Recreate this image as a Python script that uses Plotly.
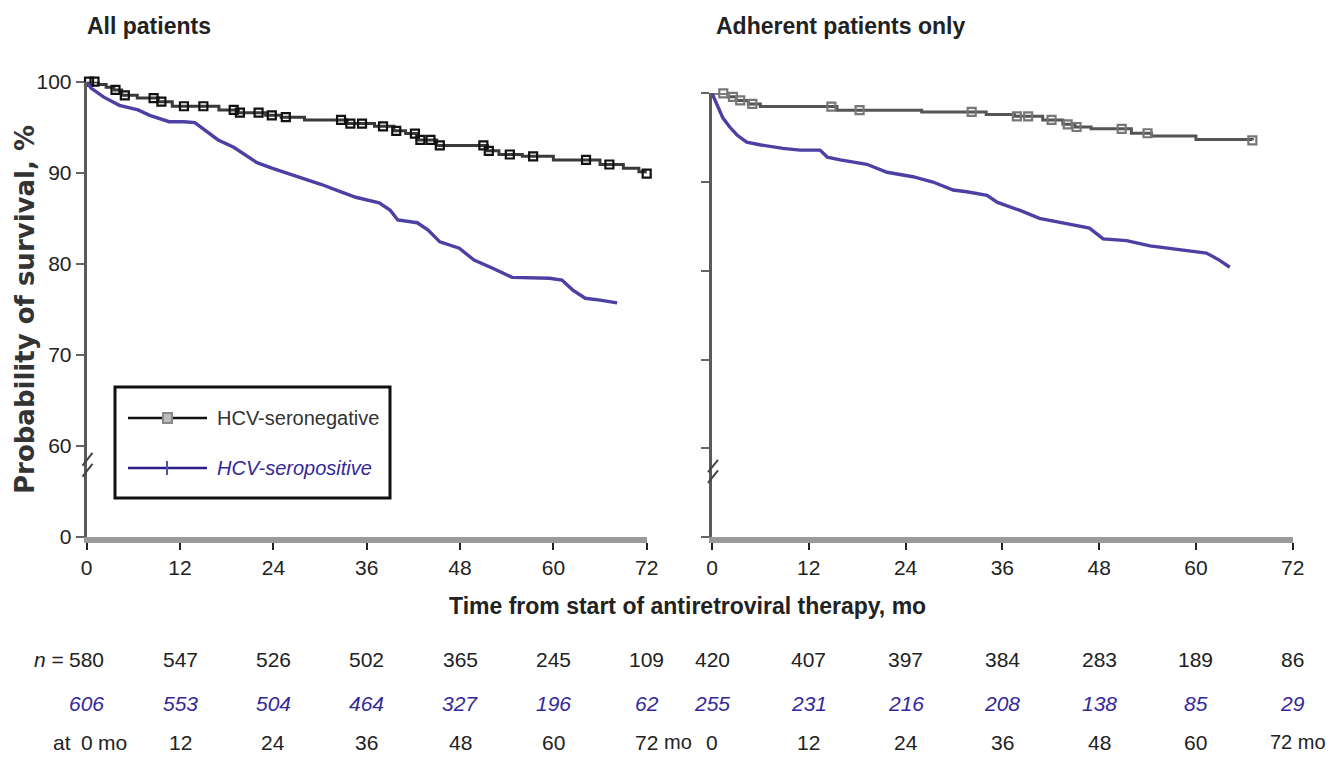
import numpy as np
import plotly.graph_objects as go

# ---------------- data ----------------
month_ticks = [0, 12, 24, 36, 48, 60, 72]
y_tickvals = [50, 60, 70, 80, 90, 100]          # 50 = broken-axis position of "0"
y_ticktext = ["0", "60", "70", "80", "90", "100"]

# All patients, HCV-seronegative (Kaplan-Meier steps)
all_neg_t = [0, 1.5, 2.5, 3.5, 4.5, 6.5, 9.2, 11.0, 17.0, 19.5, 23.0, 25.0, 28.0, 33.5,
             37.0, 39.5, 41.0, 42.5, 45.0, 51.5, 53.0, 56.0, 60.0, 66.0, 69.0, 71.0, 72.0]
all_neg_s = [100, 99.7, 99.4, 99.1, 98.5, 98.2, 97.8, 97.3, 96.9, 96.6, 96.3, 96.1, 95.8, 95.4,
             95.1, 94.6, 94.3, 93.6, 93.0, 92.4, 92.0, 91.8, 91.4, 90.9, 90.5, 90.1, 89.9]
all_neg_cens = [0.3, 1.0, 3.7, 4.9, 8.6, 9.6, 12.5, 15.0, 18.9, 19.7, 22.1, 23.8, 25.6, 32.7,
                33.9, 35.4, 38.1, 39.8, 42.2, 42.9, 44.2, 45.4, 51.0, 51.7, 54.4, 57.4, 64.2,
                67.2, 72.0]

# All patients, HCV-seropositive
all_pos_t = [0, 0.55, 2.2, 4.2, 6.6, 8.1, 10.6, 12.5, 13.9, 15.5, 16.9, 18.9, 20.4, 21.9, 23.8,
             26.3, 28.7, 30.2, 32.7, 34.6, 37.6, 39.0, 40.0, 42.5, 43.9, 45.4, 47.9, 49.8, 52.2,
             54.7, 59.5, 61.1, 62.5, 64.1, 66.0, 68.2]
all_pos_s = [100, 99.3, 98.3, 97.4, 96.9, 96.3, 95.6, 95.6, 95.5, 94.5, 93.6, 92.8, 92.0, 91.1,
             90.5, 89.8, 89.2, 88.7, 87.9, 87.3, 86.7, 85.9, 84.8, 84.5, 83.7, 82.4, 81.7, 80.4,
             79.5, 78.5, 78.4, 78.2, 77.1, 76.2, 76.0, 75.7]

# Adherent patients only, HCV-seronegative
adh_neg_t = [0, 2.0, 3.0, 4.5, 6.0, 15.5, 26.0, 34.0, 37.5, 41.0, 43.5, 45.0, 47.0, 52.0, 54.5,
             60.0, 67.0]
adh_neg_s = [100, 99.6, 99.2, 98.8, 98.5, 98.1, 97.9, 97.6, 97.4, 97.0, 96.5, 96.2, 96.0, 95.5,
             95.2, 94.8, 94.7]
adh_neg_cens = [1.4, 2.6, 3.5, 5.0, 14.8, 18.3, 32.2, 37.8, 39.2, 42.1, 44.1, 45.2, 50.8, 54.0,
                67.0]

# Adherent patients only, HCV-seropositive
adh_pos_t = [0, 0.74, 1.36, 2.2, 3.1, 4.3, 5.9, 8.8, 10.9, 13.4, 14.3, 15.9, 19.2, 21.7, 24.9,
             27.4, 29.9, 31.6, 34.1, 35.4, 38.2, 40.6, 44.0, 46.8, 48.5, 51.4, 54.3, 58.0, 61.3,
             62.9, 64.2]
adh_pos_s = [100, 98.5, 97.2, 96.2, 95.3, 94.5, 94.2, 93.8, 93.6, 93.6, 92.8, 92.5, 92.0, 91.1,
             90.6, 90.0, 89.1, 88.9, 88.5, 87.7, 86.8, 85.9, 85.3, 84.8, 83.6, 83.4, 82.8, 82.4,
             82.0, 81.2, 80.4]

# Numbers at risk
risk_all_neg = [580, 547, 526, 502, 365, 245, 109]
risk_all_pos = [606, 553, 504, 464, 327, 196, 62]
risk_adh_neg = [420, 407, 397, 384, 283, 189, 86]
risk_adh_pos = [255, 231, 216, 208, 138, 85, 29]

# ---------------- style ----------------
OFF = 8                      # page body margin offset
W, H = 1338 - 2 * OFF, 758 - OFF
SANS = "Liberation Sans, Arial, sans-serif"
BLUE = "#4c40a2"
BLUE_TXT = "#34289a"
DARK = "#222222"


def px(x):
    return (x - OFF) / W


def py(y):
    return 1 - (y - OFF) / H


def step_at(ts, ss, t):
    ts = np.asarray(ts)
    idx = np.searchsorted(ts, t, side="right") - 1
    return np.asarray(ss)[idx]


fig = go.Figure()

# left panel traces
fig.add_trace(go.Scatter(x=all_neg_t, y=all_neg_s, mode="lines", line_shape="hv",
                         line=dict(color="#3a3a3a", width=3), name="HCV-seronegative",
                         showlegend=False, xaxis="x", yaxis="y"))
fig.add_trace(go.Scatter(x=all_neg_cens, y=step_at(all_neg_t, all_neg_s, all_neg_cens),
                         mode="markers", cliponaxis=False,
                         marker=dict(symbol="square-open", size=8, color="#111111",
                                     line=dict(width=2.2, color="#111111")),
                         showlegend=False, xaxis="x", yaxis="y"))
fig.add_trace(go.Scatter(x=all_pos_t, y=all_pos_s, mode="lines",
                         line=dict(color=BLUE, width=3.4), name="HCV-seropositive",
                         showlegend=False, xaxis="x", yaxis="y"))

# right panel traces
fig.add_trace(go.Scatter(x=adh_neg_t, y=adh_neg_s, mode="lines", line_shape="hv",
                         line=dict(color="#555555", width=3), showlegend=False,
                         xaxis="x2", yaxis="y2"))
fig.add_trace(go.Scatter(x=adh_neg_cens, y=step_at(adh_neg_t, adh_neg_s, adh_neg_cens),
                         mode="markers", cliponaxis=False,
                         marker=dict(symbol="square-open", size=8, color="#777777",
                                     line=dict(width=2.2, color="#777777")),
                         showlegend=False, xaxis="x2", yaxis="y2"))
fig.add_trace(go.Scatter(x=adh_pos_t, y=adh_pos_s, mode="lines",
                         line=dict(color=BLUE, width=3.4), showlegend=False,
                         xaxis="x2", yaxis="y2"))

tickfont = dict(family=SANS, size=21, color=DARK)
xcommon = dict(range=[0, 72], tickvals=month_ticks, ticks="outside", ticklen=7,
               tickwidth=2, tickcolor="#222", showline=True, linecolor="#9a9a9a",
               linewidth=6, showgrid=False, zeroline=False, tickfont=tickfont,
               fixedrange=True, automargin=False)
ycommon = dict(range=[50, 100], tickvals=y_tickvals, ticktext=y_ticktext,
               ticks="outside", ticklen=8, tickwidth=2, tickcolor="#666",
               showline=True, linecolor="#5a5a5a", linewidth=3, showgrid=False,
               zeroline=False, tickfont=tickfont, fixedrange=True, automargin=False)

fig.update_layout(
    template="none",
    width=W, height=H, autosize=False,
    margin=dict(l=0, r=0, t=0, b=0, pad=0, autoexpand=False),
    paper_bgcolor="white", plot_bgcolor="white", showlegend=False,
    xaxis=dict(domain=[px(86.7), px(646.7)], anchor="y", **xcommon),
    yaxis=dict(domain=[py(536.7), py(81.7)], anchor="x", **ycommon),
    xaxis2=dict(domain=[px(712), px(1292.7)], anchor="y2", **xcommon),
    yaxis2=dict(domain=[py(537), py(93.3)], anchor="x2", showticklabels=False, **ycommon),
)

ann = []
shapes = []

# panel titles
ann.append(dict(text="<b>All patients</b>", x=px(85), y=py(26), xref="paper", yref="paper",
                xanchor="left", yanchor="middle", showarrow=False,
                font=dict(family=SANS, size=23, color=DARK)))
ann.append(dict(text="<b>Adherent patients only</b>", x=px(714), y=py(26), xref="paper",
                yref="paper", xanchor="left", yanchor="middle", showarrow=False,
                font=dict(family=SANS, size=23, color=DARK)))
# axis titles
ann.append(dict(text="<b>Time from start of antiretroviral therapy, mo</b>", x=px(687),
                y=py(606), xref="paper", yref="paper", xanchor="center", yanchor="middle",
                showarrow=False, font=dict(family=SANS, size=23, color=DARK)))
ann.append(dict(text="<b>Probability of survival, %</b>", x=px(25), y=py(310),
                xref="paper", yref="paper", xanchor="center", yanchor="middle",
                textangle=-90, showarrow=False,
                font=dict(family="DejaVu Sans, sans-serif", size=26, color="#333")))

# axis-break marks
for yref, xp, yval in [("y", px(87.5), 57.9), ("y2", px(713), 57.4)]:
    for dy in (-0.6, 0.6):
        shapes.append(dict(type="line", xref="paper", yref=yref,
                           x0=xp - 5 / W, x1=xp + 5 / W, y0=yval - 0.7 + dy, y1=yval + 0.7 + dy,
                           line=dict(color="#444", width=2)))

# legend (drawn)
shapes.append(dict(type="rect", xref="paper", yref="paper", x0=px(115), x1=px(390),
                   y0=py(498), y1=py(387), line=dict(color="#111", width=3),
                   fillcolor="white", layer="above"))
shapes.append(dict(type="line", xref="paper", yref="paper", x0=px(128), x1=px(207),
                   y0=py(418), y1=py(418), line=dict(color="#111", width=2.5)))
shapes.append(dict(type="rect", xref="paper", yref="paper", x0=px(163), x1=px(172),
                   y0=py(423), y1=py(413), line=dict(color="#888", width=2),
                   fillcolor="#bbbbbb"))
shapes.append(dict(type="line", xref="paper", yref="paper", x0=px(128), x1=px(207),
                   y0=py(468), y1=py(468), line=dict(color="#2b1d87", width=2.5)))
shapes.append(dict(type="line", xref="paper", yref="paper", x0=px(167), x1=px(167),
                   y0=py(475), y1=py(461), line=dict(color="#5a4fa8", width=2)))
ann.append(dict(text="HCV-seronegative", x=px(215), y=py(418), xref="paper", yref="paper",
                xanchor="left", yanchor="middle", showarrow=False,
                font=dict(family=SANS, size=20, color="#333")))
ann.append(dict(text="<i>HCV-seropositive</i>", x=px(215), y=py(468), xref="paper",
                yref="paper", xanchor="left", yanchor="middle", showarrow=False,
                font=dict(family=SANS, size=20, color=BLUE_TXT)))

# numbers-at-risk table
row_y = [py(659), py(703), py(742)]
tfont = dict(family=SANS, size=21, color=DARK)
bfont = dict(family=SANS, size=21, color=BLUE_TXT)
for xref, neg, pos in [("x", risk_all_neg, risk_all_pos), ("x2", risk_adh_neg, risk_adh_pos)]:
    for m, a, b in zip(month_ticks, neg, pos):
        ann.append(dict(text=str(a), x=m, y=row_y[0], xref=xref, yref="paper",
                        xanchor="center", yanchor="middle", showarrow=False, font=tfont))
        ann.append(dict(text=f"<i>{b}</i>", x=m, y=row_y[1], xref=xref, yref="paper",
                        xanchor="center", yanchor="middle", showarrow=False, font=bfont))
        if xref == "x" or m != 72:
            ann.append(dict(text=str(m), x=m, y=row_y[2], xref=xref, yref="paper",
                            xanchor="center", yanchor="middle", showarrow=False, font=tfont))
# "mo" units in the time row
ann.append(dict(text="mo", x=72, y=row_y[2], xref="x", yref="paper", xanchor="left",
                yanchor="middle", xshift=15, showarrow=False,
                font=dict(family=SANS, size=20, color=DARK)))
ann.append(dict(text=f"{month_ticks[-1]} mo", x=px(1328), y=row_y[2], xref="paper",
                yref="paper", xanchor="right", yanchor="middle", showarrow=False,
                font=dict(family=SANS, size=20, color=DARK)))
ann.append(dict(text="mo", x=0, y=row_y[2], xref="x", yref="paper", xanchor="left",
                yanchor="middle", xshift=9, showarrow=False, font=tfont))
ann.append(dict(text="at", x=px(73), y=row_y[2], xref="paper", yref="paper", xanchor="right",
                yanchor="middle", showarrow=False, font=tfont))
ann.append(dict(text="<i>n</i> =", x=px(66), y=row_y[0], xref="paper", yref="paper",
                xanchor="right", yanchor="middle", showarrow=False, font=tfont))

fig.update_layout(annotations=ann, shapes=shapes)
fig.write_html("out.html")
